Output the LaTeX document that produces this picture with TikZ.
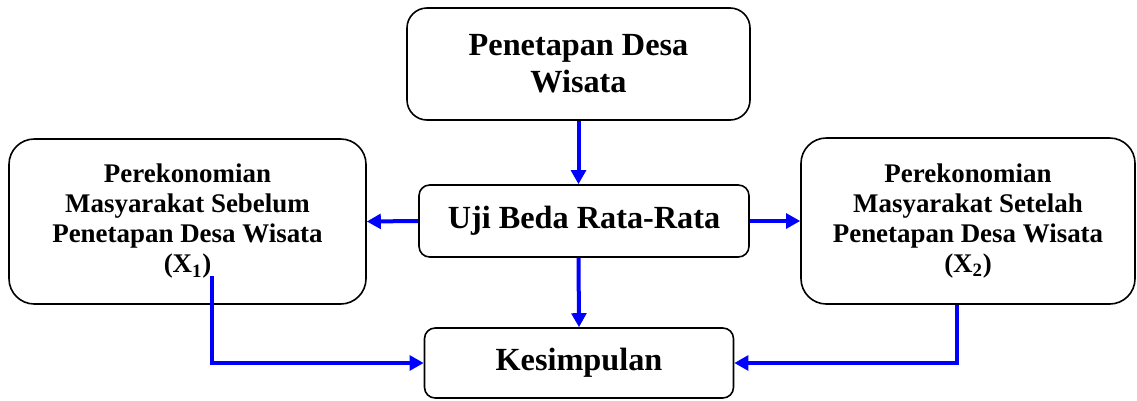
\documentclass[tikz,border=0pt]{standalone}
\usepackage{fontspec}
\setmainfont{Liberation Serif}
\usepackage{tikz}
\definecolor{arrowblue}{HTML}{0000FF}
\usetikzlibrary{arrows.meta, calc, positioning}

\begin{document}
\begin{tikzpicture}[x=0.75pt, y=-0.75pt]

  \tikzstyle{box} = [%
  align=center,
  draw=black,
  font=\bfseries,
  inner sep=0pt,
  line width=1.2pt,
  rectangle,
  ];
  \tikzstyle{bigbox} = [box, font=\fontsize{24.2}{27.5}\selectfont\bfseries];
  \tikzstyle{sidebox} = [box, rounded corners=19pt,
  font=\fontsize{20.2}{22.5}\selectfont\bfseries];
  \tikzstyle{link} = [%
  draw=arrowblue,
  line width=3pt,
  -{Triangle[length=10.5pt, width=11pt]},
  ];

  \useasboundingbox (0,0) rectangle (1137,400);

  \node[bigbox, rounded corners=15pt, minimum width=343*0.75pt, minimum height=112*0.75pt]
    (penetapan) at (578.5,64) {Penetapan Desa\\Wisata};
  \node[bigbox, rounded corners=8pt, minimum width=330*0.75pt, minimum height=72*0.75pt]
    (uji) at (584,221) {Uji Beda Rata-Rata};
  \node[sidebox, minimum width=357*0.75pt, minimum height=165*0.75pt]
    (sebelum) at (187.5,221.5)
    {Perekonomian\\Masyarakat Sebelum\\Penetapan Desa Wisata\\(X\textsubscript{1})};
  \node[sidebox, minimum width=334*0.75pt, minimum height=166*0.75pt]
    (setelah) at (968,221)
    {Perekonomian\\Masyarakat Setelah\\Penetapan Desa Wisata\\(X\textsubscript{2})};
  \node[bigbox, rounded corners=8pt, minimum width=309*0.75pt, minimum height=70*0.75pt]
    (kesimpulan) at (579,363) {Kesimpulan};

  \coordinate (xsatu) at (212,276);
  \coordinate (xdua) at (957,0);

  \draw[link] (penetapan.south) -- (penetapan.south |- uji.north);
  \draw[link] (uji.west) -- (sebelum.east);
  \draw[link] (uji.east) -- (setelah.west);
  \draw[link] (penetapan.south |- uji.south) -- (kesimpulan.north);
  \draw[link] (xsatu) |- (kesimpulan.west);
  \draw[link] (xdua |- setelah.south) |- (kesimpulan.east);

\end{tikzpicture}
\end{document}
